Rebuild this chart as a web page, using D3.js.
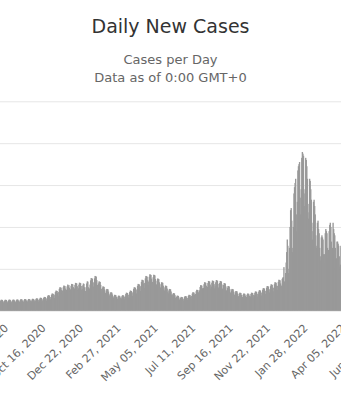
<!DOCTYPE html>
<html>
<head>
<meta charset="utf-8">
<script src="https://cdn.jsdelivr.net/npm/d3@7"></script>
<style>
  body { margin: 0; background: #fff; }
  svg { display: block; font-family: "DejaVu Sans", sans-serif; }
</style>
</head>
<body>
<svg id="chart"></svg>
<script>
// Daily new cases (thousands), one row per week, Mon..Sun, from Jul 27, 2020
var firstDay = "2020-07-27";
var dailyCasesK = [
  210, 244, 262, 259, 257, 231, 194,
  209, 243, 261, 260, 256, 230, 195,
  212, 246, 265, 262, 259, 233, 196,
  213, 247, 264, 263, 260, 232, 197,
  214, 249, 268, 265, 262, 236, 198,
  220, 256, 275, 272, 269, 242, 204,
  222, 258, 278, 275, 272, 245, 206,
  224, 260, 280, 277, 274, 246, 207,
  228, 265, 285, 282, 279, 251, 211,
  236, 274, 295, 292, 289, 260, 218,
  248, 288, 310, 307, 304, 273, 229,
  264, 307, 330, 327, 323, 290, 244,
  296, 344, 370, 366, 363, 326, 274,
  328, 381, 410, 406, 402, 361, 303,
  384, 446, 480, 475, 470, 422, 355,
  448, 521, 560, 554, 549, 493, 414,
  480, 558, 600, 594, 588, 528, 444,
  500, 581, 625, 580, 612, 550, 462,
  512, 595, 640, 634, 627, 563, 474,
  532, 618, 665, 658, 652, 585, 492,
  536, 623, 670, 663, 657, 590, 496,
  520, 605, 650, 640, 560, 430, 470,
  560, 651, 700, 693, 560, 540, 518,
  624, 725, 780, 772, 764, 686, 577,
  664, 772, 830, 822, 813, 730, 614,
  560, 651, 700, 693, 686, 616, 518,
  464, 539, 580, 574, 568, 510, 429,
  416, 484, 520, 515, 510, 458, 385,
  352, 409, 440, 436, 431, 387, 326,
  304, 353, 380, 376, 372, 334, 281,
  288, 335, 360, 356, 353, 317, 266,
  296, 344, 370, 366, 363, 326, 274,
  344, 400, 430, 426, 421, 378, 318,
  384, 446, 480, 475, 470, 422, 355,
  448, 521, 560, 554, 549, 493, 414,
  512, 595, 640, 634, 627, 563, 474,
  592, 688, 740, 733, 725, 651, 548,
  664, 772, 830, 822, 813, 730, 614,
  696, 809, 870, 861, 853, 766, 644,
  688, 800, 860, 851, 843, 757, 636,
  616, 716, 770, 762, 755, 678, 570,
  544, 632, 680, 673, 666, 598, 503,
  480, 558, 600, 594, 588, 528, 444,
  416, 484, 520, 515, 510, 458, 385,
  336, 391, 420, 416, 412, 370, 311,
  288, 335, 360, 356, 353, 317, 266,
  264, 307, 330, 327, 323, 290, 244,
  280, 326, 350, 347, 343, 308, 259,
  304, 353, 380, 376, 372, 334, 281,
  352, 409, 440, 436, 431, 387, 326,
  400, 465, 500, 495, 490, 440, 370,
  488, 567, 610, 604, 598, 537, 451,
  544, 632, 680, 673, 666, 598, 503,
  568, 660, 710, 703, 696, 625, 525,
  576, 670, 720, 713, 706, 634, 533,
  584, 679, 730, 723, 715, 642, 540,
  568, 660, 710, 703, 696, 625, 525,
  528, 614, 660, 653, 647, 581, 488,
  472, 549, 590, 584, 578, 519, 437,
  416, 484, 520, 515, 510, 458, 385,
  376, 437, 470, 465, 461, 414, 348,
  344, 400, 430, 426, 421, 378, 318,
  328, 381, 410, 406, 402, 361, 303,
  328, 381, 410, 406, 402, 361, 303,
  344, 400, 430, 426, 421, 378, 318,
  368, 428, 460, 455, 451, 405, 340,
  392, 456, 490, 485, 480, 431, 363,
  432, 502, 540, 535, 529, 475, 400,
  472, 549, 590, 584, 578, 519, 437,
  504, 586, 630, 624, 617, 554, 466,
  544, 632, 680, 673, 666, 598, 503,
  592, 688, 740, 733, 725, 651, 548,
  600, 760, 790, 800, 1040, 700, 560,
  900, 1150, 1400, 1700, 1550, 900, 1000,
  1500, 2000, 2400, 2450, 2150, 1400, 1500,
  2000, 2800, 2950, 3050, 3150, 2300, 1900,
  2600, 3350, 3450, 3500, 3550, 2700, 2300,
  2900, 3650, 3790, 3750, 3700, 2800, 2500,
  2900, 3650, 3600, 3450, 3150, 2550, 2200,
  2350, 3150, 3100, 2900, 2650, 2100, 1700,
  1900, 2600, 2650, 2500, 2300, 1800, 1500,
  1550, 2100, 2150, 1950, 1850, 1500, 1200,
  1300, 1750, 1800, 1750, 1700, 1350, 1150,
  1350, 1850, 1950, 1900, 1850, 1500, 1250,
  1450, 1900, 2050, 2100, 2000, 1650, 1400,
  1500, 2100, 1950, 1850, 1800, 1500, 1250,
  1250, 1650, 1650, 1600, 1550, 1300, 1050,
  1100, 1550, 1500, 1450, 1400, 1150, 900,
  950, 1350, 1300, 1250, 1200, 950, 800
];

var tickLabels = ["Aug 10, 2020", "Oct 16, 2020", "Dec 22, 2020", "Feb 27, 2021",
  "May 05, 2021", "Jul 11, 2021", "Sep 16, 2021", "Nov 22, 2021",
  "Jan 28, 2022", "Apr 05, 2022", "Jun 11, 2022"];
var gridValuesK = [0, 1000, 2000, 3000, 4000, 5000];

var width = 341;
var height = 400;

var svg = d3.select('#chart')
    .attr('width', width)
    .attr('height', height);

svg.append('rect').attr('width', width).attr('height', height).attr('fill', '#fff');

var parseDay = d3.utcParse('%Y-%m-%d');
var parseTick = d3.utcParse('%b %d, %Y');
var start = parseDay(firstDay);
var days = dailyCasesK.map(function (d, i) {
    return { date: d3.utcDay.offset(start, i), value: d };
});

// the plot is wider than the window; only this slice shows
var xScale = d3.scaleUtc()
    .domain([parseTick('Oct 16, 2020'), parseTick('Jan 28, 2022')])
    .range([45, 307]);
var barWidth = xScale(d3.utcDay.offset(start, 1)) - xScale(start);

var yScale = d3.scaleLinear()
    .domain([0, 5000])
    .range([310.7, 101.3]);

// grid, axis sits left of the window
var plotLeft = -120;
var yAxis = d3.axisLeft(yScale)
    .tickValues(gridValuesK)
    .tickSize(-(width - plotLeft + 20))
    .tickFormat('');

var gy = svg.append('g')
    .attr('transform', 'translate(' + plotLeft + ',0)')
    .call(yAxis);
gy.select('.domain').remove();
gy.selectAll('line').attr('stroke', '#e6e6e6');

// bars
svg.append('g')
    .selectAll('rect')
    .data(days)
    .enter()
    .append('rect')
    .attr('x', function (d) { return xScale(d.date) - barWidth / 2; })
    .attr('width', barWidth + 0.8)
    .attr('y', function (d) { return yScale(d.value); })
    .attr('height', function (d) { return yScale(0) - yScale(d.value); })
    .attr('fill', '#999');

// x axis
var xAxis = d3.axisBottom(xScale)
    .tickValues(tickLabels.map(parseTick))
    .tickFormat(d3.utcFormat('%b %d, %Y'))
    .tickSize(0);

var gx = svg.append('g')
    .attr('transform', 'translate(0,310.7)')
    .call(xAxis);
gx.select('.domain').remove();
gx.selectAll('text')
    .attr('x', 0)
    .attr('y', 0)
    .attr('dy', 0)
    .attr('text-anchor', 'end')
    .attr('transform', 'translate(1,18) rotate(-45)')
    .attr('fill', '#666')
    .style('font-size', '11px')
    .style('font-family', '"DejaVu Sans", sans-serif');

// titles
svg.append('text')
    .attr('x', 170.5).attr('y', 33)
    .attr('text-anchor', 'middle')
    .attr('fill', '#333')
    .style('font-size', '19px')
    .text('Daily New Cases');

svg.append('text')
    .attr('x', 170.5).attr('y', 64)
    .attr('text-anchor', 'middle')
    .attr('fill', '#666')
    .style('font-size', '13px')
    .text('Cases per Day');

svg.append('text')
    .attr('x', 170.5).attr('y', 81.7)
    .attr('text-anchor', 'middle')
    .attr('fill', '#666')
    .style('font-size', '13px')
    .text('Data as of 0:00 GMT+0');
</script>
</body>
</html>
